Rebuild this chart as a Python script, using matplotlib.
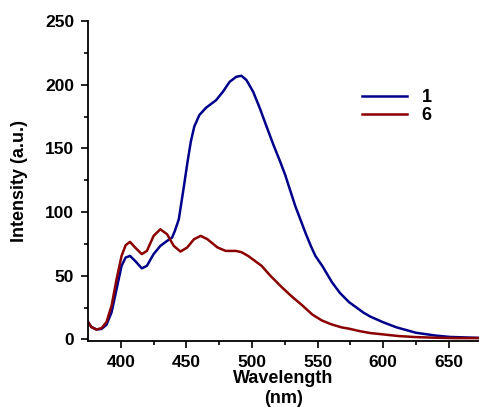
import numpy as np
import matplotlib.pyplot as plt

plt.rcParams['font.family'] = ['Liberation Sans', 'DejaVu Sans']
plt.rcParams['font.weight'] = 'bold'

# Emission spectra
wl_1 = [375, 377.6, 381.4, 385.3, 389.1, 393, 396.8, 400.6, 403.7, 407, 410.9, 416, 419.9,
        425, 430.1, 435.3, 439.1, 441.2, 444.2, 448.3, 450.9, 453.4, 456, 459.9, 465,
        472.7, 477.8, 482.9, 488, 491.9, 495.7, 500.9, 506, 511.1, 516.3, 521.4, 525.2,
        533, 541, 545, 548.3, 553.5, 561, 567, 574, 585, 590, 599.6, 610, 625, 640, 651, 673]
int_1 = [13.6, 9.7, 7.8, 8.2, 11.5, 21.4, 39.6, 57.8, 64.3, 65.6, 61.7, 55.8, 57.8,
         67, 73.4, 77.4, 80, 85.2, 94.3, 121.6, 139.8, 155.5, 167.2, 176.3, 182,
         188, 194.5, 202.3, 206.3, 207.1, 203.8, 194.5, 181.5, 167.2, 152.9, 139.8, 129.5,
         104.7, 83, 73, 65.6, 57.8, 44.8, 36.5, 29.2, 21, 18, 13.6, 9.5, 5.2, 3, 1.9, 1.2]

wl_6 = [375, 377.6, 381.4, 385.3, 389.1, 393, 396.8, 400.6, 403.7, 407, 410.9, 416, 419.9,
        425, 430.1, 435.3, 440.4, 445.5, 450.6, 455.8, 460.9, 466, 473.7, 480, 487.8,
        492, 497, 507.3, 514, 522.7, 530, 538, 546, 553, 560, 568, 574, 582, 590, 600,
        612, 625, 640, 655, 673]
int_6 = [13.6, 9.7, 7.8, 8.8, 13.6, 26.6, 47.4, 65.6, 74, 76.6, 72.2, 67, 69.5,
         81.3, 86.5, 82.6, 73.4, 69, 72.2, 78.7, 81.3, 78.7, 72.2, 69.5, 69.5,
         68.5, 65.6, 57.8, 50, 41, 34, 27, 19.5, 15, 12, 9.5, 8.4, 6.5, 5, 3.9,
         2.6, 1.8, 1.3, 1, 1]

fig = plt.figure(figsize=(4.79, 4.07), dpi=100)
ax = fig.add_axes([0.1837, 0.163, 0.8163, 0.785])

ax.plot(wl_1, int_1, color='#00008b', lw=1.8, label='1')
ax.plot(wl_6, int_6, color='#8b0000', lw=1.8, label='6')

ax.set_xlim(375, 673)
ax.set_ylim(-1, 250)
ax.set_xticks([400, 450, 500, 550, 600, 650])
ax.set_xticks(np.arange(425, 675, 50), minor=True)
ax.set_yticks([0, 50, 100, 150, 200, 250])
ax.set_yticks(np.arange(25, 250, 50), minor=True)

for s in ['top', 'right']:
    ax.spines[s].set_visible(False)
for s in ['left', 'bottom']:
    ax.spines[s].set_linewidth(1.3)
ax.tick_params(which='major', length=5, width=1.2, labelsize=12.5, direction='out', pad=5)
ax.tick_params(which='minor', length=3, width=1.2, direction='out')
for lab in ax.get_xticklabels() + ax.get_yticklabels():
    lab.set_fontweight('bold')

ax.set_ylabel('Intensity (a.u.)', fontsize=13, fontweight='bold', labelpad=12)
ax.set_xlabel('Wavelength\n(nm)', fontsize=13, fontweight='bold', labelpad=0, linespacing=1.3)

ax.legend(frameon=False, loc='upper left', bbox_to_anchor=(353 / 479, 1 - 80 / 407),
          bbox_transform=fig.transFigure, borderpad=0, handlelength=2.5,
          handletextpad=0.8, labelspacing=0.05, prop={'size': 13, 'weight': 'bold'})

plt.savefig('out.png')
